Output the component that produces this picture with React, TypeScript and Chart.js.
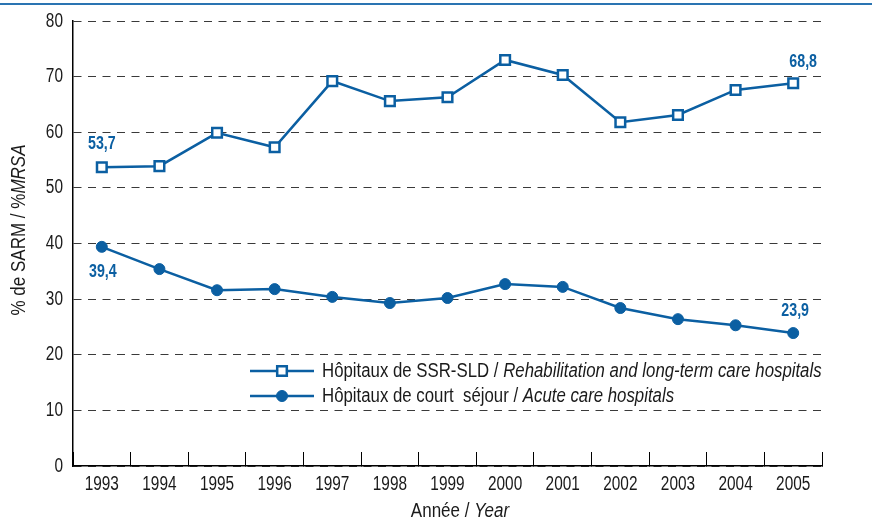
import React, { useEffect, useRef } from "react";
import { Chart, registerables } from "chart.js";

Chart.register(...registerables);

const years = ["1993", "1994", "1995", "1996", "1997", "1998", "1999", "2000", "2001", "2002", "2003", "2004", "2005"];
const ssrValues = [53.7, 53.9, 59.9, 57.3, 69.2, 65.6, 66.3, 73.0, 70.3, 61.8, 63.1, 67.6, 68.8];
const acuteValues = [39.4, 35.4, 31.6, 31.8, 30.4, 29.3, 30.2, 32.7, 32.2, 28.4, 26.4, 25.3, 23.9];
const yMin = 0;
const yMax = 80;
const yStep = 10;

const ssrLegend = [
  { text: "Hôpitaux de SSR-SLD / ", italic: false },
  { text: "Rehabilitation and long-term care hospitals", italic: true },
];
const acuteLegend = [
  { text: "Hôpitaux de court  séjour / ", italic: false },
  { text: "Acute care hospitals", italic: true },
];
const yTitle = [
  { text: "% de SARM / %", italic: false },
  { text: "MRSA", italic: true },
];
const xTitle = [
  { text: "Année / ", italic: false },
  { text: "Year", italic: true },
];

// which points carry a value label: [datasetIndex, pointIndex, dy, dx]
const valueLabels: [number, number, number, number][] = [
  [0, 0, -23, 0],
  [0, 12, -21, 10],
  [1, 0, 25, 1],
  [1, 12, -22, 2],
];

const BLUE = "#0b5fa2";
const TEXT = "#1a1a1a";
const FONT = '"Liberation Sans", Arial, sans-serif';
const SX_TICK = 0.77;
const SX_LEGEND = 0.84;
const SX_TITLE = 0.85;
const SX_BOLD = 0.79;

type Part = { text: string; italic: boolean };

function drawText(ctx: CanvasRenderingContext2D, text: string, x: number, y: number, font: string, align: CanvasTextAlign, sx: number) {
  ctx.save();
  ctx.translate(x, y);
  ctx.scale(sx, 1);
  ctx.font = font;
  ctx.textAlign = align;
  ctx.textBaseline = "middle";
  ctx.fillText(text, 0, 0);
  ctx.restore();
}

function drawMixed(ctx: CanvasRenderingContext2D, parts: Part[], x: number, y: number, size: number, align: "left" | "center", sx: number) {
  const fonts = parts.map((p) => `${p.italic ? "italic " : ""}${size}px ${FONT}`);
  const widths = parts.map((p, i) => {
    ctx.font = fonts[i];
    return ctx.measureText(p.text).width * sx;
  });
  const total = widths.reduce((a, b) => a + b, 0);
  let cx = align === "center" ? x - total / 2 : x;
  parts.forEach((p, i) => {
    drawText(ctx, p.text, cx, y, fonts[i], "left", sx);
    cx += widths[i];
  });
}

const decorPlugin = {
  id: "decor",
  beforeDraw(chart: any) {
    const ctx = chart.ctx as CanvasRenderingContext2D;
    ctx.save();
    ctx.fillStyle = "#ffffff";
    ctx.fillRect(0, 0, chart.width, chart.height);
    ctx.fillStyle = "#2a74b2";
    ctx.fillRect(0, 3, chart.width, 2);
    ctx.restore();
  },
  afterDatasetsDraw(chart: any) {
    const ctx = chart.ctx as CanvasRenderingContext2D;
    const area = chart.chartArea;
    ctx.save();

    // tick labels
    ctx.fillStyle = TEXT;
    const xs = chart.scales.x;
    xs.ticks.forEach((t: any, i: number) => {
      drawText(ctx, String(xs.getLabelForValue(t.value)), xs.getPixelForTick(i), 484, `20px ${FONT}`, "center", SX_TICK);
    });
    const ys = chart.scales.y;
    ys.ticks.forEach((t: any) => {
      drawText(ctx, String(t.label), area.left - 10, ys.getPixelForValue(t.value), `20px ${FONT}`, "right", SX_TICK);
    });

    // value labels
    ctx.fillStyle = BLUE;
    valueLabels.forEach(([ds, idx, dy, dx]) => {
      const el = chart.getDatasetMeta(ds).data[idx];
      const v = chart.data.datasets[ds].data[idx] as number;
      drawText(ctx, v.toFixed(1).replace(".", ","), el.x + dx, el.y + dy, `bold 18px ${FONT}`, "center", SX_BOLD);
    });

    // legend
    const rows = [
      { parts: ssrLegend, ds: 0, y: 371 },
      { parts: acuteLegend, ds: 1, y: 396 },
    ];
    const lx0 = 250;
    const lx1 = 314;
    rows.forEach((r) => {
      const d = chart.data.datasets[r.ds];
      ctx.strokeStyle = BLUE;
      ctx.lineWidth = d.borderWidth;
      ctx.beginPath();
      ctx.moveTo(lx0, r.y);
      ctx.lineTo(lx1, r.y);
      ctx.stroke();
      ctx.lineWidth = d.pointBorderWidth;
      ctx.fillStyle = d.pointBackgroundColor;
      ctx.strokeStyle = d.pointBorderColor;
      const mx = (lx0 + lx1) / 2;
      if (d.pointStyle === "rect") {
        const s = Math.SQRT1_2 * d.pointRadius;
        ctx.beginPath();
        ctx.rect(mx - s, r.y - s, 2 * s, 2 * s);
        ctx.fill();
        ctx.stroke();
      } else {
        ctx.beginPath();
        ctx.arc(mx, r.y, d.pointRadius, 0, Math.PI * 2);
        ctx.fill();
        ctx.stroke();
      }
      ctx.fillStyle = TEXT;
      drawMixed(ctx, r.parts, 322, r.y, 20, "left", SX_LEGEND);
    });

    // axis titles
    ctx.fillStyle = TEXT;
    drawMixed(ctx, xTitle, 460, 511, 20, "center", SX_TITLE);
    ctx.translate(19, 230);
    ctx.rotate(-Math.PI / 2);
    drawMixed(ctx, yTitle, 0, 0, 20, "center", SX_TITLE);
    ctx.restore();
  },
};

export default function App() {
  const ref = useRef<HTMLCanvasElement | null>(null);
  useEffect(() => {
    document.body.style.margin = "0";
    if (!ref.current) return;
    const chart = new Chart(ref.current, {
      type: "line",
      data: {
        labels: years,
        datasets: [
          {
            label: "SSR-SLD",
            data: ssrValues,
            borderColor: BLUE,
            borderWidth: 2.5,
            pointStyle: "rect",
            pointRadius: 6.8,
            pointBorderWidth: 2.5,
            pointBackgroundColor: "#ffffff",
            pointBorderColor: BLUE,
            tension: 0,
          } as any,
          {
            label: "Court séjour",
            data: acuteValues,
            borderColor: BLUE,
            borderWidth: 2.5,
            pointStyle: "circle",
            pointRadius: 5.5,
            pointBorderWidth: 1,
            pointBackgroundColor: BLUE,
            pointBorderColor: BLUE,
            tension: 0,
          } as any,
        ],
      },
      options: {
        responsive: false,
        animation: false,
        devicePixelRatio: 1,
        layout: { padding: { left: 0, right: 50, top: 21, bottom: 0 } },
        plugins: { legend: { display: false }, tooltip: { enabled: false } },
        scales: {
          x: {
            type: "category",
            offset: true,
            grid: {
              offset: true,
              drawOnChartArea: false,
              drawTicks: true,
              tickLength: -14,
              color: "#000000",
              lineWidth: 1,
            },
            border: { color: "#000000", width: 1.5 },
            ticks: { display: false },
            afterFit(s: any) {
              s.height = 61;
            },
          },
          y: {
            min: yMin,
            max: yMax,
            ticks: { stepSize: yStep, display: false },
            grid: { drawTicks: false, color: "#3a3a3a", lineWidth: 1 },
            border: { color: "#000000", width: 1.5, dash: [8, 6.5] },
            afterFit(s: any) {
              s.width = 73;
            },
          },
        },
      },
      plugins: [decorPlugin],
    });
    return () => chart.destroy();
  }, []);
  return (
    <div style={{ width: 872, height: 527 }}>
      <canvas ref={ref} width={872} height={527} style={{ display: "block" }} />
    </div>
  );
}
